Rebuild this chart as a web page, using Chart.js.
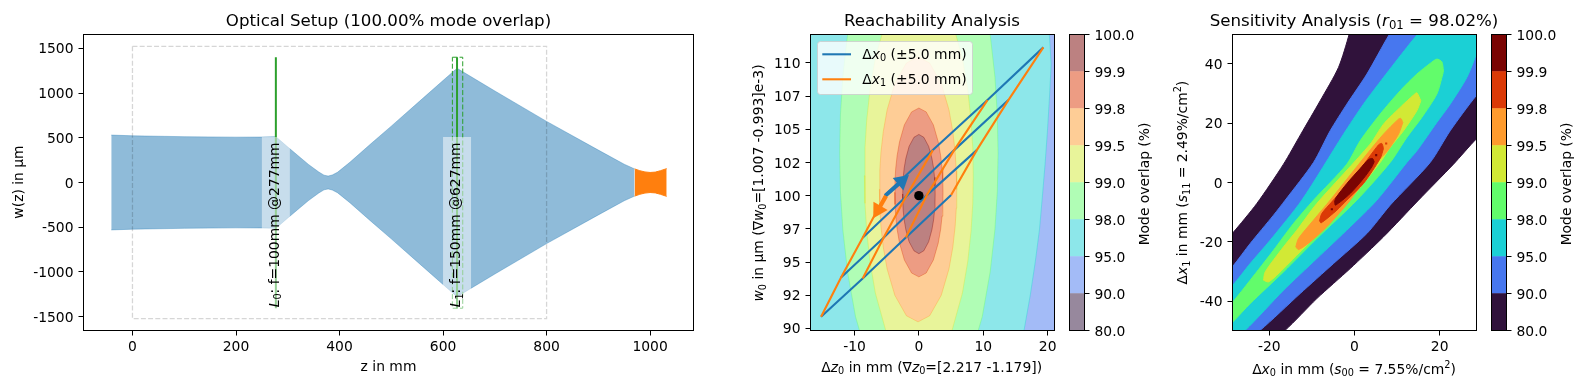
<!DOCTYPE html>
<html>

<head>
    <meta charset="utf-8">
    <script src="https://cdn.jsdelivr.net/npm/chart.js"></script>
    <style>
        body { margin: 0; background: #fff; overflow: hidden; }
        canvas { position: absolute; left: 0; top: 0; }
    </style>
</head>

<body>
    <canvas id="setup" width="1584" height="390"></canvas>
    <canvas id="reach" width="1584" height="390"></canvas>
    <canvas id="reachBar" width="1584" height="390"></canvas>
    <canvas id="sens" width="1584" height="390"></canvas>
    <canvas id="sensBar" width="1584" height="390"></canvas>

    <script>
        // Optical setup
        const setupXTicks = [0, 200, 400, 600, 800, 1000];
        const setupYTicks = [-1500, -1000, -500, 0, 500, 1000, 1500];
        const beamZ = [-41, 0, 100, 200, 250, 277, 300, 320, 340, 360, 370, 378, 386, 396, 420, 460, 500, 550, 600, 627, 700, 800, 900, 950, 970];
        const beamW = [530, 522, 512, 507, 508, 512, 397, 299, 202, 117, 82, 72, 84, 114, 226, 430, 630, 885, 1140, 1276, 1023, 683, 362, 204, 152];
        const modeZ = [970, 980, 990, 1000, 1010, 1020, 1032];
        const modeW = [152, 132, 118, 112, 116, 132, 155];
        const regionZ = [0, 800, 800, 0, 0];
        const regionW = [1522, 1522, -1522, -1522, 1522];
        const lens0Z = [277, 277];
        const lens1Z = [627, 627];
        const lensW = [1400, -1405];
        const lens1RangeZ = [618, 638, 638, 618, 618];
        const lens1RangeW = [1400, 1400, -1405, -1405, 1400];
        const lensLabels = ['*L*_{0}: f=100mm @277mm', '*L*_{1}: f=150mm @627mm'];

        // Reachability: contour outlines, upper and lower edge per level
        const reachXTicks = [-10, 0, 10, 20];
        const reachYTicks = [90, 92.5, 95, 97.5, 100, 102.5, 105, 107.5, 110];
        const reachYLabels = ['90', '92', '95', '97', '100', '102', '105', '107', '110'];
        const r90X = [-40, 40];
        const r90Up = [120, 120];
        const r90Lo = [80, 80];
        const r95UpX = [-40, 19.9, 20.28, 20.54];
        const r95Up = [116, 114, 112, 109.9];
        const r95LoX = [-40, 15.8, 16.4, 17.28, 18.06, 18.73, 19.19, 19.6, 19.97, 20.28, 20.54];
        const r95Lo = [88.5, 88.5, 90.05, 92.45, 94.96, 97.45, 100, 102.4, 104.9, 107.4, 109.9];
        const r98X = [-12.3, -12.18, -11.81, -11.07, -9.84, -7.38, -3.69, 0, 3.69, 7.38, 9.84, 11.07, 11.81, 12.18, 12.3];
        const r98Up = [103.2, 106.09, 108.95, 112.15, 115.52, 119.62, 122.79, 123.73, 122.79, 119.62, 115.52, 112.15, 108.95, 106.09, 103.2];
        const r98Lo = [103.2, 100.31, 97.45, 94.25, 90.88, 86.78, 83.61, 82.67, 83.61, 86.78, 90.88, 94.25, 97.45, 100.31, 103.2];
        const r99X = [-8.45, -8.37, -8.11, -7.6, -6.76, -5.07, -2.54, 0, 2.54, 5.07, 6.76, 7.6, 8.11, 8.37, 8.45];
        const r99Up = [101.5, 103.58, 105.63, 107.93, 110.34, 113.29, 115.56, 116.24, 115.56, 113.29, 110.34, 107.93, 105.63, 103.58, 101.5];
        const r99Lo = [101.5, 99.42, 97.37, 95.07, 92.66, 89.71, 87.44, 86.76, 87.44, 89.71, 92.66, 95.07, 97.37, 99.42, 101.5];
        const r995X = [-6.13, -6.07, -5.89, -5.53, -4.93, -3.73, -1.93, -0.13, 1.67, 3.47, 4.67, 5.27, 5.63, 5.81, 5.87];
        const r995Up = [100.47, 101.88, 103.26, 104.82, 106.46, 108.45, 109.99, 110.45, 109.99, 108.45, 106.46, 104.82, 103.26, 101.88, 100.47];
        const r995Lo = [100.47, 99.06, 97.68, 96.12, 94.48, 92.49, 90.95, 90.49, 90.95, 92.49, 94.48, 96.12, 97.68, 99.06, 100.47];
        const r998X = [-3.75, -3.71, -3.6, -3.38, -3, -2.25, -1.13, 0, 1.13, 2.25, 3, 3.38, 3.6, 3.71, 3.75];
        const r998Up = [100.24, 101.14, 102.02, 103.01, 104.06, 105.33, 106.31, 106.6, 106.31, 105.33, 104.06, 103.01, 102.02, 101.14, 100.24];
        const r998Lo = [100.24, 99.34, 98.46, 97.47, 96.42, 95.15, 94.17, 93.88, 94.17, 95.15, 96.42, 97.47, 98.46, 99.34, 100.24];
        const r999X = [-2.53, -2.5, -2.43, -2.28, -2.02, -1.52, -0.76, 0, 0.76, 1.52, 2.02, 2.28, 2.43, 2.5, 2.53];
        const r999Up = [100.12, 100.75, 101.38, 102.08, 102.81, 103.71, 104.4, 104.61, 104.4, 103.71, 102.81, 102.08, 101.38, 100.75, 100.12];
        const r999Lo = [100.12, 99.49, 98.86, 98.16, 97.43, 96.53, 95.84, 95.63, 95.84, 96.53, 97.43, 98.16, 98.86, 99.49, 100.12];

        // rows are the blue lines, columns the orange ones
        const reachZ = [
            [-15.19, -8.73, -2.02, 5.01],
            [-12.09, -5.48, 1.24, 8.99],
            [-8.73, -2.02, 5.48, 13.9],
            [-5.22, 2.17, 10.65, 19.33]
        ];
        const reachW = [
            [90.87, 93.76, 96.85, 100.04],
            [93.83, 96.82, 100.04, 103.43],
            [96.82, 99.91, 103.43, 107.2],
            [100.04, 103.43, 107.2, 111.17]
        ];
        const arrow0X = [-5.23, -2.67];
        const arrow0Y = [100, 101.09];
        const arrow1X = [-5.08, -6.33];
        const arrow1Y = [99.97, 98.92];

        // Sensitivity
        const sensXTicks = [-20, 0, 20];
        const sensYTicks = [-40, -20, 0, 20, 40];
        const s80UpX = [-30, -28.57, -22.94, -16.67, -12.6, -8.06, -3.76, -1.25, -0.08, 40];
        const s80Up = [-18.9, -16.95, -7.07, 6.17, 16.27, 27.5, 38.72, 49.94, 58, 70];
        const s80LoX = [-30, -16.28, -8.85, -1.02, 6.81, 15.03, 23.25, 28.57, 40];
        const s80Lo = [-66, -49.72, -39.06, -28.96, -18.29, -5.95, 6.17, 14.59, 30];
        const s90UpX = [-30, -28.57, -24.5, -19.02, -16.28, -9.63, -5.71, -1.8, 2.9, 8.22, 12, 40];
        const s90Up = [-30, -28.17, -20.54, -11, -5.95, 6.73, 17.4, 26.37, 36.48, 49.94, 58, 75];
        const s90LoX = [-30, -22.15, -12.76, -4.93, 2.9, 8.38, 17.77, 22.47, 28.57, 40];
        const s90Lo = [-58, -49.72, -37.37, -27.27, -17.17, -7.63, 6.73, 17.4, 29.18, 48];
        const s95UpX = [-30, -28.57, -24.5, -19.8, -12.37, -2.58, 2.11, 6.81, 12.29, 14.87, 20, 40];
        const s95Up = [-36.3, -34.57, -27.27, -19.42, -5.95, 16.27, 26.37, 35.35, 45.45, 49.94, 58, 75];
        const s95LoX = [-30, -25.68, -16.67, -8.85, -1.02, 5.24, 12.29, 14.64, 19.33, 22.47, 26.38, 28.73, 31, 40];
        const s95Lo = [-54, -49.72, -36.25, -25.59, -14.93, -5.95, 6.73, 10.66, 20.2, 26.37, 35.35, 43.77, 55, 75];
        const s98UpX = [-30, -28.57, -24.5, -19.02, -14.33, -9.63, -1.8, 1.33, 6.03, 10.73, 14.64, 17.77, 19.33, 20.51, 20.9];
        const s98Up = [-42, -40.18, -32.88, -22.79, -13.8, -5.95, 6.17, 14.03, 23.01, 30.87, 36.48, 40.07, 41.52, 40.62, 37.6];
        const s98LoX = [-30, -28.57, -24.5, -16.67, -8.85, 0.55, 8.38, 12.29, 15.81, 19.33, 20.74, 20.9];
        const s98Lo = [-48.4, -46.91, -40.74, -30.08, -18.86, -5.95, 6.73, 15.15, 21.89, 29.74, 36.48, 37.6];
        const s99UpX = [-21.37, -20.98, -16.67, -13.54, -8.85, 3.68, 6.81, 11.12, 13.86, 14.64, 15.58];
        const s99Up = [-32.88, -30.08, -21.66, -16.05, -7.07, 12.91, 19.64, 25.81, 29.41, 30.19, 27.5];
        const s99LoX = [-21.37, -20.2, -18.24, -13.54, -8.85, -1.8, 6.03, 8.38, 11.51, 14.64, 15.58];
        const s99Lo = [-32.88, -33.45, -31.2, -24.47, -17.73, -7.07, 6.73, 11.78, 17.4, 24.13, 27.5];
        const s995UpX = [-13.78, -13.15, -9.63, -5.71, 2.9, 6.81, 10.33, 10.88, 11.35];
        const s995Up = [-21.66, -18.86, -12.68, -5.95, 9.54, 16.27, 21.32, 21.55, 20.2];
        const s995LoX = [-13.78, -13.15, -10.41, -6.5, -1.02, 5.24, 7.75, 10.33, 11.35];
        const s995Lo = [-21.66, -22.56, -19.98, -14.93, -5.95, 6.73, 10.66, 16.27, 20.2];
        const s998UpX = [-8.22, -7.67, -5.32, 0.55, 5.64, 6.42, 6.81];
        const s998Up = [-12.91, -10.44, -6.51, 3.03, 12.68, 13.13, 11.45];
        const s998LoX = [-8.22, -7.83, -4.15, -1.8, 2.11, 6.03, 6.81];
        const s998Lo = [-12.91, -13.58, -9.32, -5.95, -0.34, 8.08, 11.45];
        const s999UpX = [-4.7, -4.31, -1.8, 1.33, 3.29, 4.23, 4.62];
        const s999Up = [-6.51, -5.05, -0.34, 4.71, 7.74, 8.08, 6.96];
        const s999LoX = [-4.7, -4.46, -1.02, 2.11, 4.07, 4.62];
        const s999Lo = [-6.51, -7.63, -3.7, 1.35, 5.27, 6.96];
        const speckX = [-5.32, 5.09];
        const speckY = [-8.98, 9.2];
        const speck2X = [7.44];
        const speck2Y = [13.13];

        // Colour bars
        const barLevels = ['80.0', '90.0', '95.0', '98.0', '99.0', '99.5', '99.8', '99.9', '100.0'];
        const barSteps = [1, 1, 1, 1, 1, 1, 1, 1];
        const turbo = ['#30123b', '#4777ef', '#1bd0d5', '#62fc6b', '#d2e935', '#fe9b2d', '#db3a07', '#7a0403'];
        const turboHalf = ['#97889d', '#a3bbf7', '#8de7ea', '#b0fdb5', '#e8f49a', '#fecd96', '#ed9c83', '#bc8181'];
        const turboEdge = ['rgba(48,18,59,.35)', 'rgba(71,119,239,.35)', 'rgba(27,208,213,.35)', 'rgba(98,252,107,.35)', 'rgba(210,233,53,.35)', 'rgba(254,155,45,.35)', 'rgba(219,58,7,.35)', 'rgba(122,4,3,.35)'];

        const FONT = '"DejaVu Sans"';
        const TICK_SIZE = 13.89;
        Chart.defaults.font.family = FONT;
        Chart.defaults.font.size = TICK_SIZE;
        Chart.defaults.color = '#000';

        function pts(xs, ys) {
            return xs.map((x, i) => ({ x: x, y: ys[i] }));
        }

        function line(xs, ys, color, width, dash) {
            return { data: pts(xs, ys), borderColor: color, borderWidth: width, borderDash: dash || [], fill: false };
        }

        // two datasets, the first one filled down to the second
        function band(upX, up, loX, lo, color, edge, tension) {
            return [
                { data: pts(upX, up), borderColor: edge, borderWidth: 1, backgroundColor: color, fill: '+1', tension: tension || 0 },
                { data: pts(loX, lo), borderColor: edge, borderWidth: 1, fill: false, tension: tension || 0 }
            ];
        }

        function marker(xs, ys, color, style, radius, rotation) {
            return {
                data: pts(xs, ys), showLine: false, fill: false, pointStyle: style, pointRadius: radius,
                pointRotation: rotation || 0, pointBackgroundColor: color, pointBorderColor: color, pointBorderWidth: 0
            };
        }

        // *italic*, _{sub} and ^{sup} are enough for the math labels here
        function parseRuns(text) {
            const runs = [];
            const re = /_\{([^}]*)\}|\^\{([^}]*)\}|\*([^*]*)\*|[^_^*]+/g;
            let m;
            while ((m = re.exec(text)) !== null) {
                if (m[1] !== undefined) runs.push({ t: m[1], kind: 'sub' });
                else if (m[2] !== undefined) runs.push({ t: m[2], kind: 'sup' });
                else if (m[3] !== undefined) runs.push({ t: m[3], kind: 'it' });
                else runs.push({ t: m[0], kind: '' });
            }
            return runs;
        }

        function runFont(run, size) {
            if (run.kind === 'it') return 'italic ' + size + 'px ' + FONT;
            if (run.kind === 'sub' || run.kind === 'sup') return (size * 0.7) + 'px ' + FONT;
            return size + 'px ' + FONT;
        }

        function drawText(ctx, text, x, y, size, rotated, leftAlign) {
            const runs = parseRuns(text);
            ctx.save();
            ctx.translate(x, y);
            if (rotated) ctx.rotate(-Math.PI / 2);
            ctx.fillStyle = '#000';
            ctx.textBaseline = 'alphabetic';
            ctx.textAlign = 'left';
            let total = 0;
            runs.forEach(r => {
                ctx.font = runFont(r, size);
                total += ctx.measureText(r.t).width;
            });
            let pos = leftAlign ? 0 : -total / 2;
            runs.forEach(r => {
                ctx.font = runFont(r, size);
                let dy = 0;
                if (r.kind === 'sub') dy = size * 0.18;
                if (r.kind === 'sup') dy = -size * 0.42;
                ctx.fillText(r.t, pos, dy);
                pos += ctx.measureText(r.t).width;
            });
            ctx.restore();
        }

        function textPlugin(items) {
            return {
                id: 'texts',
                afterDraw(chart) {
                    items.forEach(a => drawText(chart.ctx, a[0], a[1], a[2], a[3], a[4]));
                }
            };
        }

        const framePlugin = {
            id: 'frame',
            // y tick labels sit a little lower in the original
            beforeDraw(chart) {
                if (chart.$nudged) return;
                chart.scales.y.getLabelItems().forEach(it => { it.options.translation[1] += 1.5; });
                chart.$nudged = true;
            },
            afterDatasetsDraw(chart) {
                const a = chart.chartArea;
                chart.ctx.save();
                chart.ctx.strokeStyle = '#000';
                chart.ctx.lineWidth = 1;
                chart.ctx.strokeRect(a.left, a.top, a.right - a.left, a.bottom - a.top);
                chart.ctx.restore();
            }
        };

        function fixedTicks(values, labels, pad) {
            return {
                afterBuildTicks: s => { s.ticks = values.map(v => ({ value: v })); },
                ticks: {
                    autoSkip: false, maxRotation: 0, padding: pad, font: { size: TICK_SIZE },
                    callback: (v, i) => labels ? labels[i] : String(v)
                },
                grid: { drawOnChartArea: false, tickLength: 5, tickColor: '#000', tickWidth: 1 },
                border: { display: false }
            };
        }

        function axesOptions(box, xlim, ylim, xTicks, yTicks, yLabels) {
            return {
                responsive: false,
                animation: false,
                devicePixelRatio: 1,
                layout: { padding: { left: box.l - 70, right: 1584 - box.r, top: box.t, bottom: 390 - box.b - 40 } },
                elements: { point: { radius: 0 }, line: { tension: 0 } },
                plugins: { legend: { display: false }, tooltip: { enabled: false } },
                scales: {
                    x: Object.assign({ type: 'linear', min: xlim[0], max: xlim[1], afterFit: s => { s.height = 40; } }, fixedTicks(xTicks, null, 3.5)),
                    y: Object.assign({ type: 'linear', min: ylim[0], max: ylim[1], afterFit: s => { s.width = 70; } }, fixedTicks(yTicks, yLabels, 5))
                }
            };
        }

        function colorBar(id, colors, box, labelX) {
            new Chart(document.getElementById(id), {
                type: 'bar',
                data: {
                    labels: ['overlap'],
                    datasets: barSteps.map((v, i) => ({
                        label: barLevels[i] + '-' + barLevels[i + 1], data: [v], backgroundColor: colors[i],
                        barPercentage: 1, categoryPercentage: 1
                    }))
                },
                options: {
                    responsive: false,
                    animation: false,
                    devicePixelRatio: 1,
                    layout: { padding: { left: box.l, right: 1584 - box.r - 70, top: box.t, bottom: 390 - box.b } },
                    plugins: { legend: { display: false }, tooltip: { enabled: false } },
                    scales: {
                        x: { stacked: true, display: false },
                        y: Object.assign({ stacked: true, position: 'right', min: 0, max: 8, afterFit: s => { s.width = 70; } },
                            fixedTicks([0, 1, 2, 3, 4, 5, 6, 7, 8], barLevels, 5))
                    }
                },
                plugins: [framePlugin, textPlugin([['Mode overlap (%)', labelX, 184, TICK_SIZE, true]])]
            });
        }

        // paint order = list order
        function paintOrder(datasets) {
            datasets.forEach((d, i) => { d.order = -i; });
            return datasets;
        }

        // --- setup panel ---
        const lensBoxPlugin = {
            id: 'lensBoxes',
            afterDatasetsDraw(chart) {
                const ctx = chart.ctx;
                [lens0Z[0], lens1Z[0]].forEach((z, i) => {
                    const x = chart.scales.x.getPixelForValue(z);
                    const bottom = chart.scales.y.getPixelForValue(-1450);
                    ctx.fillStyle = 'rgba(255,255,255,.5)';
                    ctx.fillRect(x - 14, 137, 28, bottom - 137);
                    drawText(ctx, lensLabels[i], x + 3, chart.scales.y.getPixelForValue(-1395), TICK_SIZE, true, true);
                });
            }
        };
        new Chart(document.getElementById('setup'), {
            type: 'line',
            data: {
                datasets: paintOrder([
                    ...band(beamZ, beamW, beamZ, beamW.map(w => -w), 'rgba(31,119,180,.5)', 'rgba(31,119,180,.35)'),
                    ...band(modeZ, modeW, modeZ, modeW.map(w => -w), '#ff7f0e', '#ff7f0e'),
                    line(regionZ, regionW, 'rgba(0,0,0,.16)', 1.3, [5, 2.2]),
                    line(lens0Z, lensW, '#2ca02c', 2),
                    line(lens1Z, lensW, '#2ca02c', 2),
                    line(lens1RangeZ, lens1RangeW, '#2ca02c', 1, [5, 2.2])
                ])
            },
            options: axesOptions({ l: 83.5, r: 693.5, t: 34.5, b: 330.5 }, [-94.6, 1083.8], [-1654, 1654], setupXTicks, setupYTicks,
                setupYTicks.map(String)),
            plugins: [lensBoxPlugin, framePlugin, textPlugin([
                ['Optical Setup (100.00% mode overlap)', 388.5, 26, 16.67],
                ['z in mm', 388.5, 371, TICK_SIZE],
                ['w(z) in µm', 22.6, 182, TICK_SIZE, true]
            ])]
        });

        // --- reachability panel ---
        const legendPlugin = {
            id: 'reachLegend',
            afterDatasetsDraw(chart) {
                const ctx = chart.ctx;
                ctx.save();
                ctx.beginPath();
                ctx.roundRect(817.5, 41.5, 155, 53, 3);
                ctx.fillStyle = 'rgba(255,255,255,.8)';
                ctx.fill();
                ctx.strokeStyle = 'rgba(204,204,204,.8)';
                ctx.lineWidth = 1;
                ctx.stroke();
                ctx.lineWidth = 2.08;
                [['#1f77b4', 54.3], ['#ff7f0e', 79.3]].forEach(a => {
                    ctx.strokeStyle = a[0];
                    ctx.beginPath();
                    ctx.moveTo(822.3, a[1]);
                    ctx.lineTo(851, a[1]);
                    ctx.stroke();
                });
                ctx.restore();
                drawText(ctx, 'Δ*x*_{0} (±5.0 mm)', 862.3, 58.8, TICK_SIZE, false, true);
                drawText(ctx, 'Δ*x*_{1} (±5.0 mm)', 862.3, 83.8, TICK_SIZE, false, true);
            }
        };
        new Chart(document.getElementById('reach'), {
            type: 'line',
            data: {
                datasets: paintOrder([
                    ...band(r90X, r90Up, r90X, r90Lo, turboHalf[1], turboEdge[1]),
                    ...band(r95UpX, r95Up, r95LoX, r95Lo, turboHalf[2], turboEdge[2]),
                    ...band(r98X, r98Up, r98X, r98Lo, turboHalf[3], turboEdge[3]),
                    ...band(r99X, r99Up, r99X, r99Lo, turboHalf[4], turboEdge[4]),
                    ...band(r995X, r995Up, r995X, r995Lo, turboHalf[5], turboEdge[5]),
                    ...band(r998X, r998Up, r998X, r998Lo, turboHalf[6], turboEdge[6]),
                    ...band(r999X, r999Up, r999X, r999Lo, turboHalf[7], turboEdge[7]),
                    ...reachZ.map((zs, i) => line(zs, reachW[i], '#1f77b4', 2.08)),
                    ...reachZ.map((zs, j) => line(reachZ.map(r => r[j]), reachW.map(r => r[j]), '#ff7f0e', 2.08)),
                    line(arrow0X, arrow0Y, '#1f77b4', 4),
                    marker([arrow0X[1]], [arrow0Y[1]], '#1f77b4', 'triangle', 9.5, 49.5),
                    line(arrow1X, arrow1Y, '#ff7f0e', 4),
                    marker([arrow1X[1]], [arrow1Y[1]], '#ff7f0e', 'triangle', 9.5, 210.7),
                    marker([0], [100], '#000', 'circle', 4.7)
                ])
            },
            options: axesOptions({ l: 810.5, r: 1054.5, t: 34.5, b: 330.5 }, [-16.83, 21.06], [89.84, 112.14], reachXTicks, reachYTicks, reachYLabels),
            plugins: [legendPlugin, framePlugin, textPlugin([
                ['Reachability Analysis', 932, 26, 16.67],
                ['Δ*z*_{0} in mm (∇*z*_{0}=[2.217 -1.179])', 931.7, 371.5, TICK_SIZE],
                ['*w*_{0} in µm (∇*w*_{0}=[1.007 -0.993]e-3)', 763.3, 183, TICK_SIZE, true]
            ])]
        });
        colorBar('reachBar', turboHalf, { l: 1069.5, r: 1084.5, t: 34.5, b: 330.5 }, 1149.3);

        // --- sensitivity panel ---
        const SMOOTH = 0.25;
        new Chart(document.getElementById('sens'), {
            type: 'line',
            data: {
                datasets: paintOrder([
                    ...band(s80UpX, s80Up, s80LoX, s80Lo, turbo[0], turbo[0], SMOOTH),
                    ...band(s90UpX, s90Up, s90LoX, s90Lo, turbo[1], turbo[1], SMOOTH),
                    ...band(s95UpX, s95Up, s95LoX, s95Lo, turbo[2], turbo[2], SMOOTH),
                    ...band(s98UpX, s98Up, s98LoX, s98Lo, turbo[3], turbo[3], SMOOTH),
                    ...band(s99UpX, s99Up, s99LoX, s99Lo, turbo[4], turbo[4], SMOOTH),
                    ...band(s995UpX, s995Up, s995LoX, s995Lo, turbo[5], turbo[5], SMOOTH),
                    ...band(s998UpX, s998Up, s998LoX, s998Lo, turbo[6], turbo[6], SMOOTH),
                    ...band(s999UpX, s999Up, s999LoX, s999Lo, turbo[7], turbo[7], SMOOTH),
                    marker(speckX, speckY, turbo[7], 'rect', 1.5),
                    marker(speck2X, speck2Y, turbo[6], 'rect', 1.5)
                ])
            },
            options: axesOptions({ l: 1232.5, r: 1476.5, t: 34.5, b: 330.5 }, [-28.65, 28.65], [-49.8, 49.8], sensXTicks, sensYTicks,
                sensYTicks.map(String)),
            plugins: [framePlugin, textPlugin([
                ['Sensitivity Analysis (*r*_{01} = 98.02%)', 1354, 26, 16.67],
                ['Δ*x*_{0} in mm (*s*_{00} = 7.55%/cm^{2})', 1354, 373.5, TICK_SIZE],
                ['Δ*x*_{1} in mm (*s*_{11} = 2.49%/cm^{2})', 1187.3, 182.6, TICK_SIZE, true]
            ])]
        });
        colorBar('sensBar', turbo, { l: 1491.5, r: 1506.5, t: 34.5, b: 330.5 }, 1571);
    </script>

</body>

</html>
